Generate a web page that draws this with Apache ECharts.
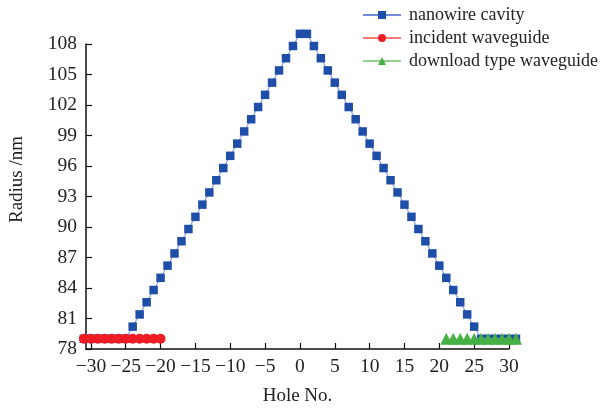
<!DOCTYPE html>
<html>
<head>
<meta charset="utf-8">
<script src="https://cdn.jsdelivr.net/npm/echarts@6/dist/echarts.min.js"></script>
<style>
html,body{margin:0;padding:0;background:#fff;}
#chart{width:604px;height:411px;}
</style>
</head>
<body>
<div id="chart"></div>
<script>
// Data
var holes = [-31,-30,-29,-28,-27,-26,-25,-24,-23,-22,-21,-20,-19,-18,-17,-16,-15,-14,-13,-12,-11,-10,-9,-8,-7,-6,-5,-4,-3,-2,-1,0,1,2,3,4,5,6,7,8,9,10,11,12,13,14,15,16,17,18,19,20,21,22,23,24,25,26,27,28,29,30,31];
var cavityRadius = [79,79,79,79,79,79,79,80.2,81.4,82.6,83.8,85,86.2,87.4,88.6,89.8,91,92.2,93.4,94.6,95.8,97,98.2,99.4,100.6,101.8,103,104.2,105.4,106.6,107.8,109,109,107.8,106.6,105.4,104.2,103,101.8,100.6,99.4,98.2,97,95.8,94.6,93.4,92.2,91,89.8,88.6,87.4,86.2,85,83.8,82.6,81.4,80.2,79,79,79,79,79,79];
var incidentHoles = [-31,-30,-29,-28,-27,-26,-25,-24,-23,-22,-21,-20];
var incidentRadius = [79,79,79,79,79,79,79,79,79,79,79,79];
var downloadHoles = [21,22,23,24,25,26,27,28,29,30,31];
var downloadRadius = [79,79,79,79,79,79,79,79,79,79,79];
var xTicks = [-30,-25,-20,-15,-10,-5,0,5,10,15,20,25,30];
var seriesNames = ['nanowire cavity','incident waveguide','download type waveguide'];

function pairs(xs, ys){ return xs.map(function(x,i){ return [x, ys[i]]; }); }

var font = 'Liberation Serif';
var chart = echarts.init(document.getElementById('chart'), null, {renderer:'canvas'});
chart.setOption({
  animation:false,
  backgroundColor:'#fff',
  textStyle:{fontFamily:font},
  legend:{
    left:357, top:1, orient:'vertical',
    itemWidth:38, itemHeight:10, itemGap:5,
    textStyle:{fontFamily:font, fontSize:18, color:'#222', padding:[0,0,0,3]},
    data:seriesNames
  },
  grid:{left:75.5, right:95, top:44, bottom:57},
  xAxis:{
    type:'value', min:-30.7, max:30,
    name:'Hole No.', nameLocation:'middle', nameGap:38,
    nameTextStyle:{fontFamily:font, fontSize:19, color:'#222'},
    axisLine:{onZero:false, lineStyle:{color:'#111', width:1.5}},
    axisTick:{inside:true, length:6, customValues:xTicks, lineStyle:{color:'#111', width:1.2}},
    axisLabel:{customValues:xTicks, fontFamily:font, fontSize:19.5, color:'#222', margin:8,
      formatter:function(v){ return String(v).replace('-', '\u2212'); }},
    splitLine:{show:false}
  },
  yAxis:{
    type:'value', min:78, max:108, interval:3,
    name:'Radius /nm', nameLocation:'middle', nameGap:59,
    nameTextStyle:{fontFamily:font, fontSize:19, color:'#222', padding:[0,0,0,34]},
    axisLine:{show:true, onZero:false, lineStyle:{color:'#111', width:1.5}},
    axisTick:{show:true, inside:true, length:6, lineStyle:{color:'#111', width:1.2}},
    axisLabel:{fontFamily:font, fontSize:19.5, color:'#222', margin:9},
    splitLine:{show:false}
  },
  series:[
    {name:seriesNames[0], type:'line', clip:false, z:2,
      data:pairs(holes, cavityRadius),
      symbol:'rect', symbolSize:8.5,
      lineStyle:{color:'#6f8ad6', width:1},
      itemStyle:{color:'#1f4ea8'}},
    {name:seriesNames[1], type:'line', clip:false, z:3,
      data:pairs(incidentHoles, incidentRadius),
      symbol:'circle', symbolSize:10,
      lineStyle:{color:'#f47a7a', width:1},
      itemStyle:{color:'#ee1c24'}},
    {name:seriesNames[2], type:'line', clip:false, z:4,
      data:pairs(downloadHoles, downloadRadius),
      symbol:'triangle', symbolSize:[12,12],
      lineStyle:{color:'#8fd08f', width:1},
      itemStyle:{color:'#45b045'}}
  ]
});
</script>
</body>
</html>
